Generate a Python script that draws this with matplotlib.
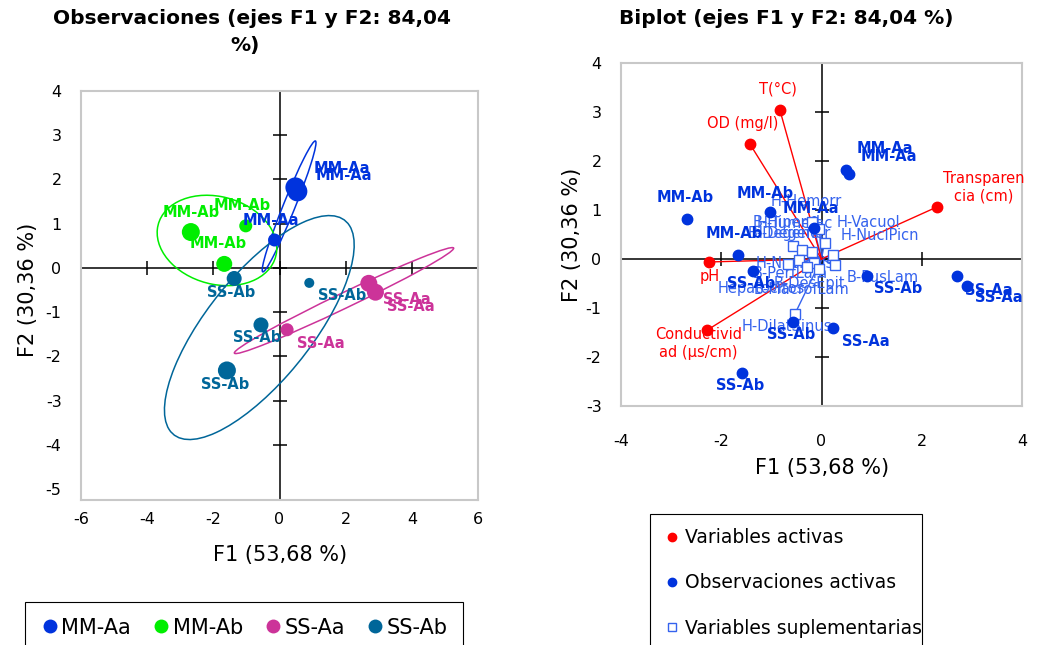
import numpy as np
import matplotlib.pyplot as plt
from matplotlib.patches import Ellipse
from matplotlib.lines import Line2D

# --- observaciones (coordenadas F1, F2) ---
obs_group = ['MM-Aa', 'MM-Aa', 'MM-Aa', 'MM-Ab', 'MM-Ab', 'MM-Ab',
             'SS-Aa', 'SS-Aa', 'SS-Aa', 'SS-Ab', 'SS-Ab', 'SS-Ab', 'SS-Ab']
obs_f1 = [0.48, 0.54, -0.15, -2.68, -1.02, -1.67, 2.70, 2.90, 0.23, -1.37, 0.90, -0.56, -1.59]
obs_f2 = [1.82, 1.73, 0.63, 0.81, 0.95, 0.09, -0.35, -0.55, -1.40, -0.24, -0.34, -1.29, -2.32]

groups = ['MM-Aa', 'MM-Ab', 'SS-Aa', 'SS-Ab']
group_colors = ['#0033DD', '#00EE00', '#CC3399', '#006699']

# elipses de confianza por grupo
ell_cx = [0.29, -1.89, 1.95, -0.61]
ell_cy = [1.39, 0.62, -0.74, -1.35]
ell_a = [1.68, 1.82, 3.52, 3.57]
ell_b = [0.17, 1.00, 0.18, 1.375]
ell_ang = [61.6, -8.0, 19.7, 40.2]

# variables activas
act_names = ['T(°C)', 'OD (mg/l)', 'Transparen\ncia (cm)', 'pH', 'Conductivid\nad (µs/cm)']
act_f1 = [-0.83, -1.43, 2.30, -2.24, -2.28]
act_f2 = [3.04, 2.35, 1.06, -0.06, -1.45]

# variables suplementarias
sup_names = ['H-Hemorr', 'H-Vacuol', 'H-NuclPicn', 'B-PusLam', 'H-DilatSinus',
             'B-Hiperpl', 'H-Tumefac', 'B-Degener', 'H-Degener',
             'H-Necrosis', 'B-PerfLam', 'B-DesEpit', 'Hepatocitos', 'B-MacrofLam']
sup_f1 = [-0.18, 0.06, 0.22, 0.26, -0.53, -0.57, -0.38, -0.18, -0.04,
          -0.67, -0.45, -0.14, -0.28, -0.05]
sup_f2 = [0.76, 0.33, 0.08, -0.12, -1.12, 0.27, 0.18, 0.14, 0.61,
          -0.10, -0.02, -0.08, -0.16, -0.20]

left_xticks = [-6, -4, -2, 0, 2, 4, 6]
left_yticks = [-5, -4, -3, -2, -1, 0, 1, 2, 3, 4]
right_xticks = [-4, -2, 0, 2, 4]
right_yticks = [-3, -2, -1, 0, 1, 2, 3, 4]

# tamaños / desplazamientos de etiquetas (pixeles)
obs_size_left = [20, 20, 13, 18, 13, 16, 17, 17, 13, 15, 10, 15, 18]
lbl_left = [(46, -19), (47, -16), (-4, -20), (0, -20), (-4, -20), (-6, -20),
            (38, 16), (35, 14), (34, 14), (-3, 14), (33, 13), (-4, 13), (-2, 14)]
lbl_right = [(39, -21), (40, -18), (-3, -20), (-2, -22), (-5, -19), (-4, -21),
             (32, 14), (32, 12), (33, 14), (-2, 13), (32, 13), (-2, 12), (-2, 13)]
lbl_act = [(-2, -21), (-7, -20), (47, -20), (0, 15), (-9, 13)]
lbl_sup = [(-6, -20), (44, -20), (47, -20), (48, 13), (-8, 13),
           (-6, -23), (-8, -27), (-26, -19), (-28, 4),
           (7, 0), (-9, 14), (-5, 21), (-46, 22), (-17, 21)]

FONT = 'DejaVu Sans'
plt.rcParams['font.family'] = [FONT]
plt.rcParams['axes.unicode_minus'] = False

fig = plt.figure(figsize=(10.4, 6.45), dpi=100)
W, H = 1040.0, 645.0


def px_axes(l, t, r, b):
    return fig.add_axes([l / W, 1 - b / H, (r - l) / W, (b - t) / H])


def style_axes(ax, xt, yt, xpad, ypad):
    ax.set_xticks(xt)
    ax.set_yticks(yt)
    ax.tick_params(length=0, labelsize=11.5)
    ax.tick_params(axis='x', pad=xpad)
    ax.tick_params(axis='y', pad=ypad)
    for s in ax.spines.values():
        s.set_color('#C8C8C8')
        s.set_linewidth(1.5)
    ax.axhline(0, color='black', lw=1.1, zorder=1)
    ax.axvline(0, color='black', lw=1.1, zorder=1)
    ax.plot(xt[1:-1], np.zeros(len(xt) - 2), ls='none', marker='|', ms=10,
            mew=1.1, color='black', zorder=1)
    ax.plot(np.zeros(len(yt) - 2), yt[1:-1], ls='none', marker='_', ms=10,
            mew=1.1, color='black', zorder=1)


# ---------------- Observaciones ----------------
ax1 = px_axes(81, 91, 478, 500)
ax1.set_xlim(-6, 6)
ax1.set_ylim(-5.25, 4)
style_axes(ax1, left_xticks, left_yticks, 9, 14)

for g, c, cx, cy, a, b, ang in zip(groups, group_colors, ell_cx, ell_cy, ell_a, ell_b, ell_ang):
    ax1.add_patch(Ellipse((cx, cy), 2 * a, 2 * b, angle=ang, fill=False,
                          edgecolor=c, lw=1.1, zorder=2))

for i, g in enumerate(obs_group):
    c = group_colors[groups.index(g)]
    ax1.scatter(obs_f1[i], obs_f2[i], s=(obs_size_left[i] * 0.72) ** 2, color=c,
                edgecolor='none', zorder=3)
    ax1.annotate(g, (obs_f1[i], obs_f2[i]), xytext=(lbl_left[i][0], -lbl_left[i][1]),
                 textcoords='offset pixels', ha='center', va='center',
                 color=c, fontsize=10.5, fontweight='bold', zorder=4)

fig.text(252 / W, 1 - 18 / H, 'Observaciones (ejes F1 y F2: 84,04', ha='center', va='center',
         fontsize=14.5, fontweight='bold')
fig.text(245 / W, 1 - 45 / H, '%)', ha='center', va='center', fontsize=14.5, fontweight='bold')
fig.text(280 / W, 1 - 555 / H, 'F1 (53,68 %)', ha='center', va='center', fontsize=15)
fig.text(28 / W, 1 - 290 / H, 'F2 (30,36 %)', ha='center', va='center', fontsize=15, rotation=90)

h1 = [Line2D([], [], ls='none', marker='o', ms=10, color=c, mec='none') for c in group_colors]
leg1 = fig.legend(h1, groups, loc='upper left', bbox_to_anchor=(25 / W, 1 - 602 / H - 0.2, 438 / W, 0.2),
                  mode='expand', ncol=4, fontsize=15, frameon=True, fancybox=False,
                  edgecolor='black', framealpha=1, handletextpad=0.1, borderpad=0.75,
                  handlelength=0.9, columnspacing=1.0, borderaxespad=0)
leg1.get_frame().set_linewidth(0.8)

# ---------------- Biplot ----------------
ax2 = px_axes(621, 63, 1022, 406)
ax2.set_xlim(-4, 4)
ax2.set_ylim(-3, 4)
style_axes(ax2, right_xticks, right_yticks, 20, 14)

blue = '#0033DD'
sup_col = '#3563EE'
for i in range(len(sup_names)):
    ax2.plot([0, sup_f1[i]], [0, sup_f2[i]], color=sup_col, lw=1, zorder=2)
    ax2.plot(sup_f1[i], sup_f2[i], ls='none', marker='s', ms=7, mfc='white',
             mec=sup_col, mew=1, zorder=5)
    ax2.annotate(sup_names[i], (sup_f1[i], sup_f2[i]), xytext=(lbl_sup[i][0], -lbl_sup[i][1]),
                 textcoords='offset pixels', ha='center', va='center',
                 color=sup_col, fontsize=10.5, zorder=4)

for i in range(len(act_names)):
    ax2.plot([0, act_f1[i]], [0, act_f2[i]], color='#FF0000', lw=1, zorder=2)
    ax2.plot(act_f1[i], act_f2[i], ls='none', marker='o', ms=7.5, color='#FF0000', zorder=5)
    ax2.annotate(act_names[i], (act_f1[i], act_f2[i]), xytext=(lbl_act[i][0], -lbl_act[i][1]),
                 textcoords='offset pixels', ha='center', va='center',
                 color='#FF0000', fontsize=10.5, zorder=4, linespacing=1.25)

for i, g in enumerate(obs_group):
    ax2.plot(obs_f1[i], obs_f2[i], ls='none', marker='o', ms=7.5, color=blue, zorder=5)
    ax2.annotate(g, (obs_f1[i], obs_f2[i]), xytext=(lbl_right[i][0], -lbl_right[i][1]),
                 textcoords='offset pixels', ha='center', va='center',
                 color=blue, fontsize=10.5, fontweight='bold', zorder=4)

fig.text(786 / W, 1 - 18 / H, 'Biplot (ejes F1 y F2: 84,04 %)', ha='center', va='center',
         fontsize=14.5, fontweight='bold')
fig.text(822 / W, 1 - 468 / H, 'F1 (53,68 %)', ha='center', va='center', fontsize=15)
fig.text(572 / W, 1 - 235 / H, 'F2 (30,36 %)', ha='center', va='center', fontsize=15, rotation=90)

h2 = [Line2D([], [], ls='none', marker='o', ms=6, color='#FF0000'),
      Line2D([], [], ls='none', marker='o', ms=6, color=blue),
      Line2D([], [], ls='none', marker='s', ms=6, mfc='white', mec=sup_col, mew=1)]
leg2 = fig.legend(h2, ['Variables activas', 'Observaciones activas', 'Variables suplementarias'],
                  loc='upper left', bbox_to_anchor=(650 / W, 1 - 514 / H - 0.3, 272 / W, 0.3),
                  mode='expand', fontsize=13.5, frameon=True, fancybox=False,
                  edgecolor='black', framealpha=1, handletextpad=0.3, borderpad=0.75,
                  handlelength=0.8, labelspacing=1.4, borderaxespad=0)
leg2.get_frame().set_linewidth(0.8)

fig.savefig('out.png', dpi=100)
